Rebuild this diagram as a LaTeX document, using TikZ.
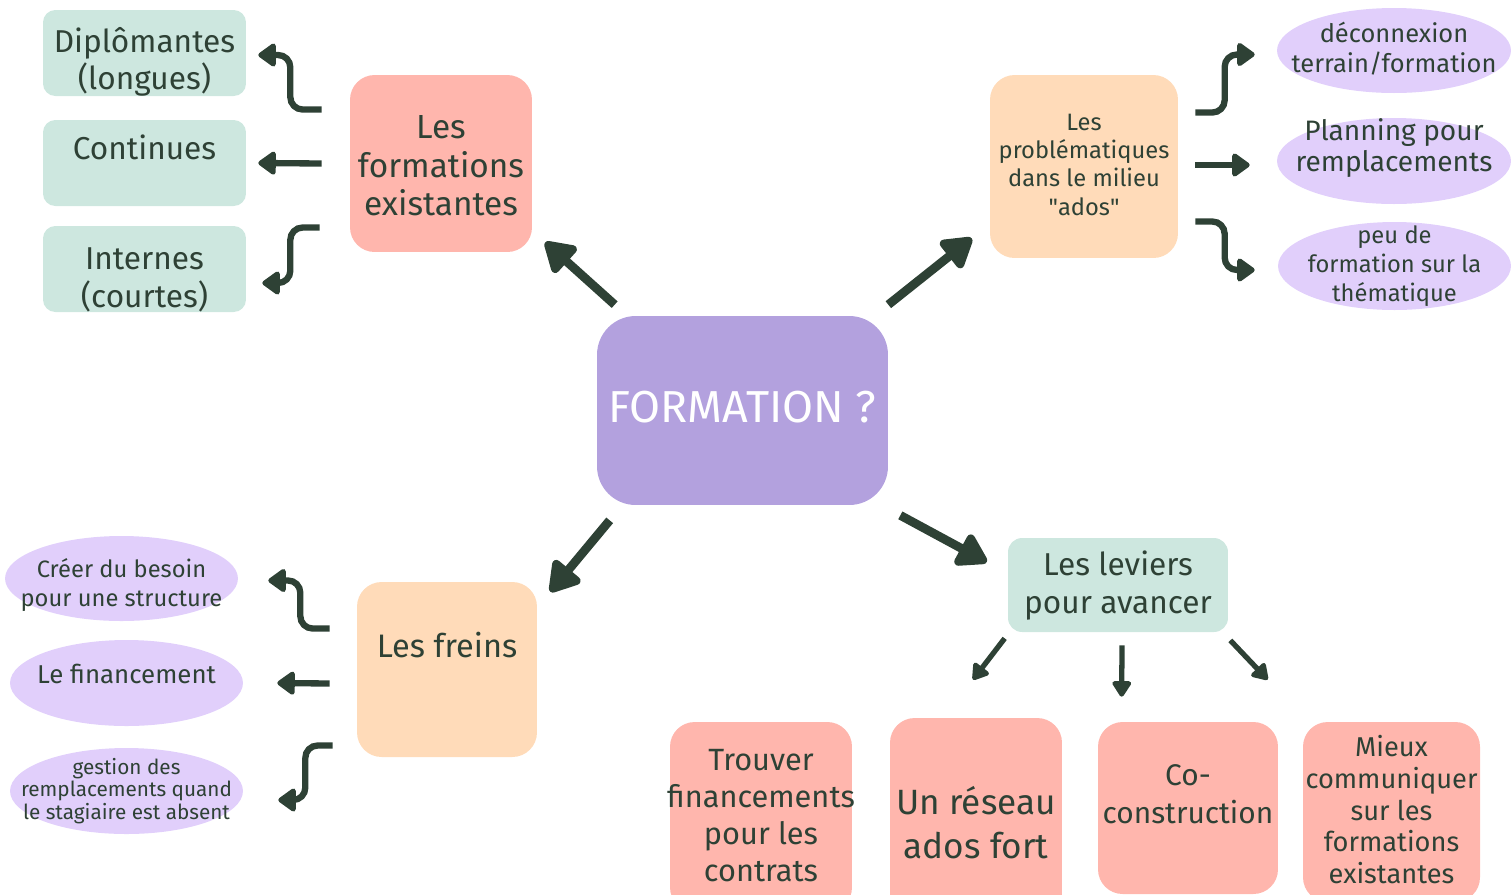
\documentclass[tikz,border=0pt]{standalone}
\usepackage{fontspec}
\setmainfont{Fira Sans}
\usepackage{xcolor}
\usetikzlibrary{arrows.meta,shapes.geometric,calc}
\definecolor{encre}{HTML}{2E4135}
\definecolor{menthe}{HTML}{CDE7DF}
\definecolor{saumon}{HTML}{FFB6AD}
\definecolor{peche}{HTML}{FFDBB9}
\definecolor{lilas}{HTML}{E1CFFB}
\definecolor{mauve}{HTML}{B3A1DE}
\newcommand{\taille}[2]{\fontsize{#1}{#2}\selectfont}
\newcommand{\etiq}[2][0pt]{\smash{\makebox[0pt]{\raisebox{\dimexpr#1-.3em\relax}{\begin{tabular}{@{}c@{}}#2\end{tabular}}}}}
\tikzset{
  boite/.style = {rectangle, rounded corners=14pt, inner sep=0pt, text=encre},
  bulle/.style = {ellipse, fill=lilas, inner sep=0pt, text=encre},
  fleche/.style = {encre, line width=3.6pt, rounded corners=7pt, -{Triangle[length=11pt,width=15pt,round]}},
  grosse/.style = {encre, line width=5pt, -{Triangle[length=19pt,width=22pt,round]}},
  moyenne/.style = {encre, line width=3pt, -{Triangle[length=10pt,width=12pt,round]}}
}

\begin{document}
\begin{tikzpicture}[x=0.02cm, y=-0.02cm]
		\useasboundingbox (0,0) rectangle (1511,894);
		% centre
		\node [boite, fill=mauve, rounded corners=22pt, minimum width=5.82cm, minimum height=3.78cm, text=white, font=\taille{25.5}{28}] (formation) at (742.5,410.5) {\etiq{FORMATION ?}};
		% les formations existantes
		\node [boite, fill=saumon, minimum width=3.64cm, minimum height=3.54cm, font=\taille{19}{22}] (exist) at (441,163.5) {\etiq[-2pt]{Les\\formations\\existantes}};
		\node [boite, fill=menthe, rounded corners=7pt, minimum width=4.06cm, minimum height=1.72cm, font=\taille{18}{21}] (dipl) at (144.5,53) {\etiq[-5pt]{Diplômantes\\(longues)}};
		\node [boite, fill=menthe, rounded corners=7pt, minimum width=4.06cm, minimum height=1.72cm, font=\taille{18}{21}] (cont) at (144.5,163) {\etiq[7pt]{Continues}};
		\node [boite, fill=menthe, rounded corners=7pt, minimum width=4.06cm, minimum height=1.72cm, font=\taille{18}{21}] (intern) at (144.5,269) {\etiq[-6pt]{Internes\\(courtes)}};
		% les problematiques
		\node [boite, fill=peche, minimum width=3.76cm, minimum height=3.66cm, font=\taille{13.5}{16}] (proble) at (1084,166.5) {\etiq{Les\\problématiques\\dans le milieu\\\textquotedbl ados\textquotedbl}};
		\node [bulle, minimum width=4.68cm, minimum height=1.70cm, font=\taille{14.5}{17}] (deco) at (1394,50.5) {\etiq{déconnexion\\terrain/formation}};
		\node [bulle, minimum width=4.68cm, minimum height=1.72cm, font=\taille{16}{18}] (plan) at (1394,161) {\etiq[7pt]{Planning pour\\remplacements}};
		\node [bulle, minimum width=4.66cm, minimum height=1.76cm, font=\taille{13.5}{16.5}] (peu) at (1394.5,266) {\etiq{peu de\\formation sur la\\thématique}};
		% les freins
		\node [boite, fill=peche, minimum width=3.60cm, minimum height=3.50cm, font=\taille{18.5}{21}] (freins) at (447,669.5) {\etiq[12pt]{Les freins}};
		\node [bulle, minimum width=4.66cm, minimum height=1.70cm, font=\taille{13.5}{16}] (besoin) at (121.5,578.5) {\etiq[-4pt]{Créer du besoin\\pour une structure}};
		\node [bulle, minimum width=4.66cm, minimum height=1.72cm, font=\taille{14.7}{17}] (finan) at (126.5,683) {\etiq[4pt]{Le financement}};
		\node [bulle, minimum width=4.66cm, minimum height=1.72cm, font=\taille{11.8}{12.5}] (gestion) at (126.5,791) {\etiq{gestion des\\remplacements quand\\le stagiaire est absent}};
		% les leviers
		\node [boite, fill=menthe, rounded corners=8pt, minimum width=4.40cm, minimum height=1.88cm, font=\taille{18}{21.5}] (leviers) at (1118,585) {\etiq{Les leviers\\pour avancer}};
		\node [boite, fill=saumon, minimum width=3.64cm, minimum height=3.80cm, font=\taille{17.5}{21}] (trouver) at (761,817) {\etiq{Trouver\\financements\\pour les\\contrats}};
		\node [boite, fill=saumon, minimum width=3.44cm, minimum height=4.32cm, font=\taille{20}{25.5}] (reseau) at (976,826) {\etiq{Un réseau\\ados fort}};
		\node [boite, fill=saumon, minimum width=3.60cm, minimum height=3.44cm, font=\taille{17}{21.5}] (cocon) at (1188,808) {\etiq[7pt]{Co-\\construction}};
		\node [boite, fill=saumon, minimum width=3.54cm, minimum height=3.60cm, font=\taille{15.5}{18}] (mieux) at (1391.5,812) {\etiq{Mieux\\communiquer\\sur les\\formations\\existantes}};
		% fleches du centre
		\draw [grosse] ($(formation.north west)+(18,-11)$) -- ($(exist.south east)+(13,-10)$);
		\draw [grosse] ($(formation.north east)+(0,-11)$) -- ($(proble.south west)+(-18,-20)$);
		\draw [grosse] ($(formation.south west)+(13,15)$) -- ($(freins.north east)+(13,10)$);
		\draw [grosse] ($(formation.south east)+(12,10)$) -- ($(leviers.west)+(-21,-23)$);
		% fleches a gauche en haut
		\draw [fleche] ($(exist.west)+(-28,-54)$) -| ($(dipl.east)+(44,30)$) |- ($(dipl.east)+(12,2)$);
		\draw [fleche] ($(exist.west)+(-28,0)$) -- ($(cont.east)+(12,0)$);
		\draw [fleche] ($(exist.west)+(-30,64)$) -| ($(intern.east)+(44,-14)$) |- ($(intern.east)+(16,14)$);
		% fleches a droite
		\draw [fleche] ($(proble.east)+(17,-54)$) -| ($(deco.west)+(-52,34)$) |- ($(deco.west)+(-22,4)$);
		\draw [fleche] ($(proble.east)+(17,-1.5)$) -- ($(plan.west)+(-27,4)$);
		\draw [fleche] ($(proble.east)+(17,55)$) -| ($(peu.west)+(-53,-21)$) |- ($(peu.west)+(-23,4)$);
		% fleches a gauche en bas
		\draw [fleche] ($(freins.west)+(-27,-41)$) -| ($(besoin.east)+(62,26)$) |- ($(besoin.east)+(30,2)$);
		\draw [fleche] ($(freins.west)+(-27,14)$) -- ($(finan.east)+(34,0)$);
		\draw [fleche] ($(freins.west)+(-24,76)$) -| ($(gestion.east)+(62,-21)$) |- ($(gestion.east)+(35,9)$);
		% fleches des leviers
		\draw [moyenne] ($(leviers.south west)+(-3,6)$) -- ($(reseau.north)+(-3,-38)$);
		\draw [moyenne] ($(leviers.south)+(4,13)$) -- ($(cocon.north west)+(24,-25)$);
		\draw [moyenne] ($(leviers.south east)+(2,8)$) -- ($(mieux.north west)+(-35,-42)$);
\end{tikzpicture}
\end{document}
